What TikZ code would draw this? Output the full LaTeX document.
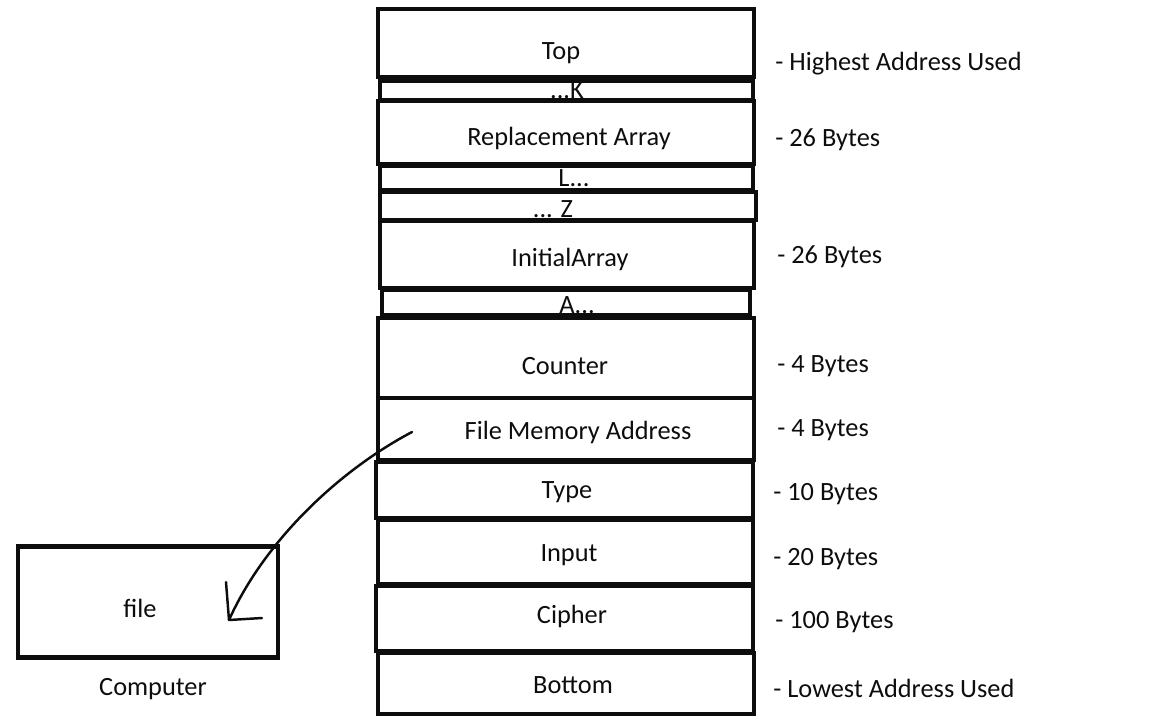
\documentclass[tikz,border=0pt]{standalone}
\usepackage{fontspec}
\setmainfont{Carlito}
\usetikzlibrary{positioning}
\definecolor{mainBlack}{gray}{0.05}

\tikzset{
    cell/.style={draw=mainBlack, line width=2.5pt},
    txt/.style={font=\fontsize{15}{17}\selectfont, text=mainBlack, inner sep=0pt},
    lbl/.style={txt, yshift=-0.06cm},
    strip/.style={txt},
    size/.style={lbl, anchor=west},
    link/.style={draw=mainBlack, line width=1.4pt, line cap=round, line join=round}
}

\begin{document}
\begin{tikzpicture}[x=0.02cm, y=-0.02cm]
    \useasboundingbox (0,0) rectangle (1152,720);

    % memory cells, top to bottom
    \draw[cell] (378,9) rectangle (754,77);
    \draw[cell] (380,81) rectangle (753,100);
    \draw[cell] (378,101) rectangle (754,164);
    \draw[cell] (380,166) rectangle (753,190);
    \draw[cell] (380,192) rectangle (756,220);
    \draw[cell] (380,221) rectangle (754,288);
    \draw[cell] (382,290) rectangle (750,315);
    \draw[cell] (378,318) rectangle (754,398);
    \draw[cell] (378,398) rectangle (754,460);
    \draw[cell] (376,462) rectangle (753,518);
    \draw[cell] (378,520) rectangle (753,584);
    \draw[cell] (376,586) rectangle (753,651);
    \draw[cell] (378,653) rectangle (754,714);

    \node[lbl] (top) at (561,50) {Top};
    \node[strip] (endK) at (567,90) {...K};
    \node[lbl] (repl) at (569,135) {Replacement Array};
    \node[strip] (startL) at (574,178) {L...};
    \node[strip] (endZ) at (553,209) {... Z};
    \node[lbl] (init) at (570,256) {InitialArray};
    \node[strip] (startA) at (577,305) {A...};
    \node[lbl] (counter) at (565,363) {Counter};
    \node[lbl] (fma) at (578,429) {File Memory Address};
    \node[lbl] (type) at (567,489) {Type};
    \node[lbl] (input) at (569,552) {Input};
    \node[lbl] (cipher) at (572,613) {Cipher};
    \node[lbl] (bottom) at (573,682) {Bottom};

    % sizes
    \node[size] (szTop) at (775,61) {- Highest Address Used};
    \node[size] (szRepl) at (775,137) {- 26 Bytes};
    \node[size] (szInit) at (777,254) {- 26 Bytes};
    \node[size] (szCounter) at (777,363) {- 4 Bytes};
    \node[size] (szFma) at (777,427) {- 4 Bytes};
    \node[size] (szType) at (773,491) {- 10 Bytes};
    \node[size] (szInput) at (773,556) {- 20 Bytes};
    \node[size] (szCipher) at (775,619) {- 100 Bytes};
    \node[size] (szBottom) at (773,685) {- Lowest Address Used};

    % the computer
    \node[cell, minimum width=5.2cm, minimum height=2.22cm] (file) at (148,602) {};
    \node[lbl] (fileName) at (140,605) {file};
    \node[lbl] (computer) at (153,686) {Computer};

    % pointer to the file
    \coordinate (ptr) at (412,432);
    \coordinate (tip) at (229,620);
    \draw[link] (ptr) .. controls (340,470) and (265,540) .. (tip);
    \draw[link] ([shift={(-3,-38)}]tip) -- (tip) -- ([shift={(33,-2)}]tip);
\end{tikzpicture}
\end{document}
